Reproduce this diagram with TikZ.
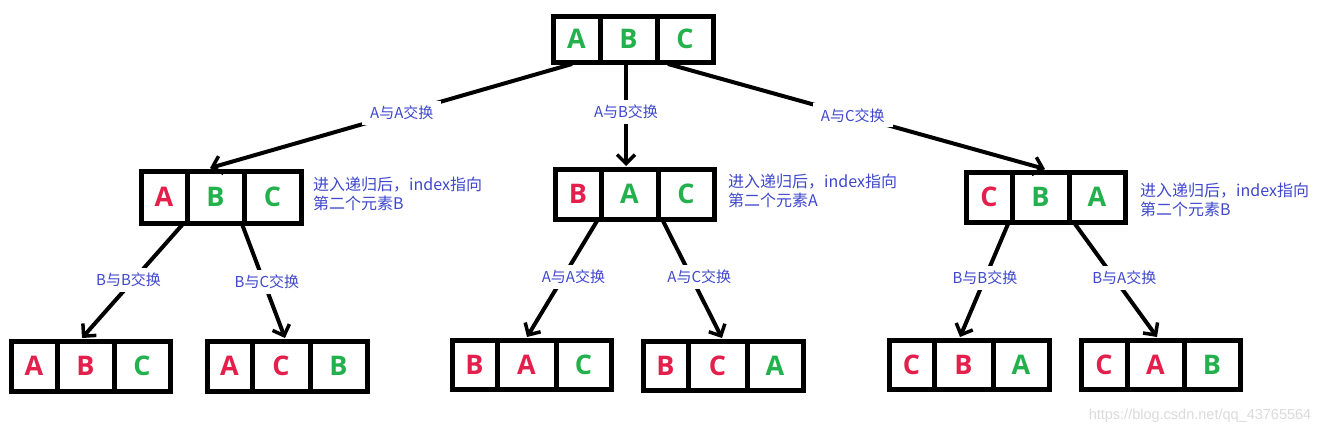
\documentclass[tikz,border=0pt]{standalone}
\usepackage{fontspec}
\setmainfont{Noto Sans}
\newfontfamily\cjk{Noto Sans CJK SC}
\newfontfamily\wmfont{Liberation Sans}
\newfontfamily\letterfont{Open Sans}
\usetikzlibrary{arrows.meta}
\definecolor{pgreen}{HTML}{22B14C}
\definecolor{pred}{HTML}{E3204B}
\definecolor{pblue}{HTML}{3F48CC}
\newcommand{\G}[1]{\textcolor{pgreen}{#1}}
\newcommand{\R}[1]{\textcolor{pred}{#1}}
\newcommand{\cellnode}[6]{%
  \node[cell, minimum width={#3-#2}, minimum height={#5-#4}] (#1) at ({(#2+#3)/2},{(#4+#5)/2}) {#6};}
\begin{document}
\begin{tikzpicture}[x=1pt,y=-1pt,
  cell/.style={draw=black, line width=5pt, inner sep=0pt, fill=white,
    font=\letterfont\bfseries\fontsize{27}{27}\selectfont},
  conn/.style={draw=black, line width=4pt, -{Straight Barb[length=9pt,width=18pt,line width=3.5pt]}},
  lbl/.style={font=\cjk\fontsize{15}{18}\selectfont, text=pblue, fill=white, inner xsep=8pt, inner ysep=5pt},
  note/.style={font=\cjk\fontsize{16}{19}\selectfont, text=pblue, align=left, anchor=west, inner sep=0pt}]
\useasboundingbox[fill=white] (0,0) rectangle (1332,434);

% top box
\cellnode{t1}{553}{600}{16}{62}{\G{A}}
\cellnode{t2}{600}{657}{16}{62}{\G{B}}
\cellnode{t3}{657}{713}{16}{62}{\G{C}}

% middle left
\cellnode{l1}{141}{187}{171}{223}{\R{A}}
\cellnode{l2}{187}{244}{171}{223}{\G{B}}
\cellnode{l3}{244}{301}{171}{223}{\G{C}}
% middle center
\cellnode{c1}{555}{601}{169}{219}{\R{B}}
\cellnode{c2}{601}{658}{169}{219}{\G{A}}
\cellnode{c3}{658}{714}{169}{219}{\G{C}}
% middle right
\cellnode{r1}{966}{1012}{172}{222}{\R{C}}
\cellnode{r2}{1012}{1069}{172}{222}{\G{B}}
\cellnode{r3}{1069}{1125}{172}{222}{\G{A}}

% bottom row
\cellnode{a1}{11}{57}{341}{391}{\R{A}}
\cellnode{a2}{57}{114}{341}{391}{\R{B}}
\cellnode{a3}{114}{170}{341}{391}{\G{C}}
\cellnode{b1}{207}{252}{341}{391}{\R{A}}
\cellnode{b2}{252}{310}{341}{391}{\R{C}}
\cellnode{b3}{310}{367}{341}{391}{\G{B}}
\cellnode{d1}{452}{497}{340}{389}{\R{B}}
\cellnode{d2}{497}{556}{340}{389}{\R{A}}
\cellnode{d3}{556}{611}{340}{389}{\G{C}}
\cellnode{e1}{643}{688}{341}{390}{\R{B}}
\cellnode{e2}{688}{747}{341}{390}{\R{C}}
\cellnode{e3}{747}{803}{341}{390}{\G{A}}
\cellnode{f1}{889}{934}{340}{389}{\R{C}}
\cellnode{f2}{934}{993}{340}{389}{\R{B}}
\cellnode{f3}{993}{1049}{340}{389}{\G{A}}
\cellnode{g1}{1081}{1127}{340}{389}{\R{C}}
\cellnode{g2}{1127}{1184}{340}{389}{\R{A}}
\cellnode{g3}{1184}{1240}{340}{389}{\G{B}}

% connector end points
\coordinate (tL) at (572,64);
\coordinate (tM) at (626,64);
\coordinate (tR) at (668,64);
\coordinate (lIn) at (210,168);
\coordinate (cIn) at (626,166);
\coordinate (rIn) at (1045,169);
\coordinate (lA) at (183,224);
\coordinate (lB) at (242,224);
\coordinate (cA) at (597,221);
\coordinate (cB) at (663,221);
\coordinate (rA) at (1008,224);
\coordinate (rB) at (1075,224);
\coordinate (aIn) at (82,338);
\coordinate (bIn) at (285,338);
\coordinate (dIn) at (527,337);
\coordinate (eIn) at (722,338);
\coordinate (fIn) at (960,337);
\coordinate (gIn) at (1157,337);

\draw[conn] (tL) -- node[lbl,pos=.47] (k1) {A与A交换} (lIn);
\draw[conn] (tM) -- node[lbl,pos=.47] (k2) {A与B交换} (cIn);
\draw[conn] (tR) -- node[lbl,pos=.49] (k3) {A与C交换} (rIn);

\draw[conn] (lA) -- node[lbl,pos=.49,xshift=-5pt] (k4) {B与B交换} (aIn);
\draw[conn] (lB) -- node[lbl,pos=.51,xshift=3pt] (k5) {B与C交换} (bIn);
\draw[conn] (cA) -- node[lbl,pos=.48,xshift=10pt] (k6) {A与A交换} (dIn);
\draw[conn] (cB) -- node[lbl,pos=.48,xshift=8pt] (k7) {A与C交换} (eIn);
\draw[conn] (rA) -- node[lbl,pos=.48] (k8) {B与B交换} (fIn);
\draw[conn] (rB) -- node[lbl,pos=.48,xshift=10pt] (k9) {B与A交换} (gIn);

% side notes
\node[note] (n1) at (313,194) {进入递归后，index指向\\第二个元素B};
\node[note] (n2) at (728,191) {进入递归后，index指向\\第二个元素A};
\node[note] (n3) at (1140,200) {进入递归后，index指向\\第二个元素B};

% watermark
\node[font=\wmfont\fontsize{14.5}{16}\selectfont, text=black!14] (wm) at (1200,416) {https://blog.csdn.net/qq\_43765564};
\end{tikzpicture}
\end{document}
